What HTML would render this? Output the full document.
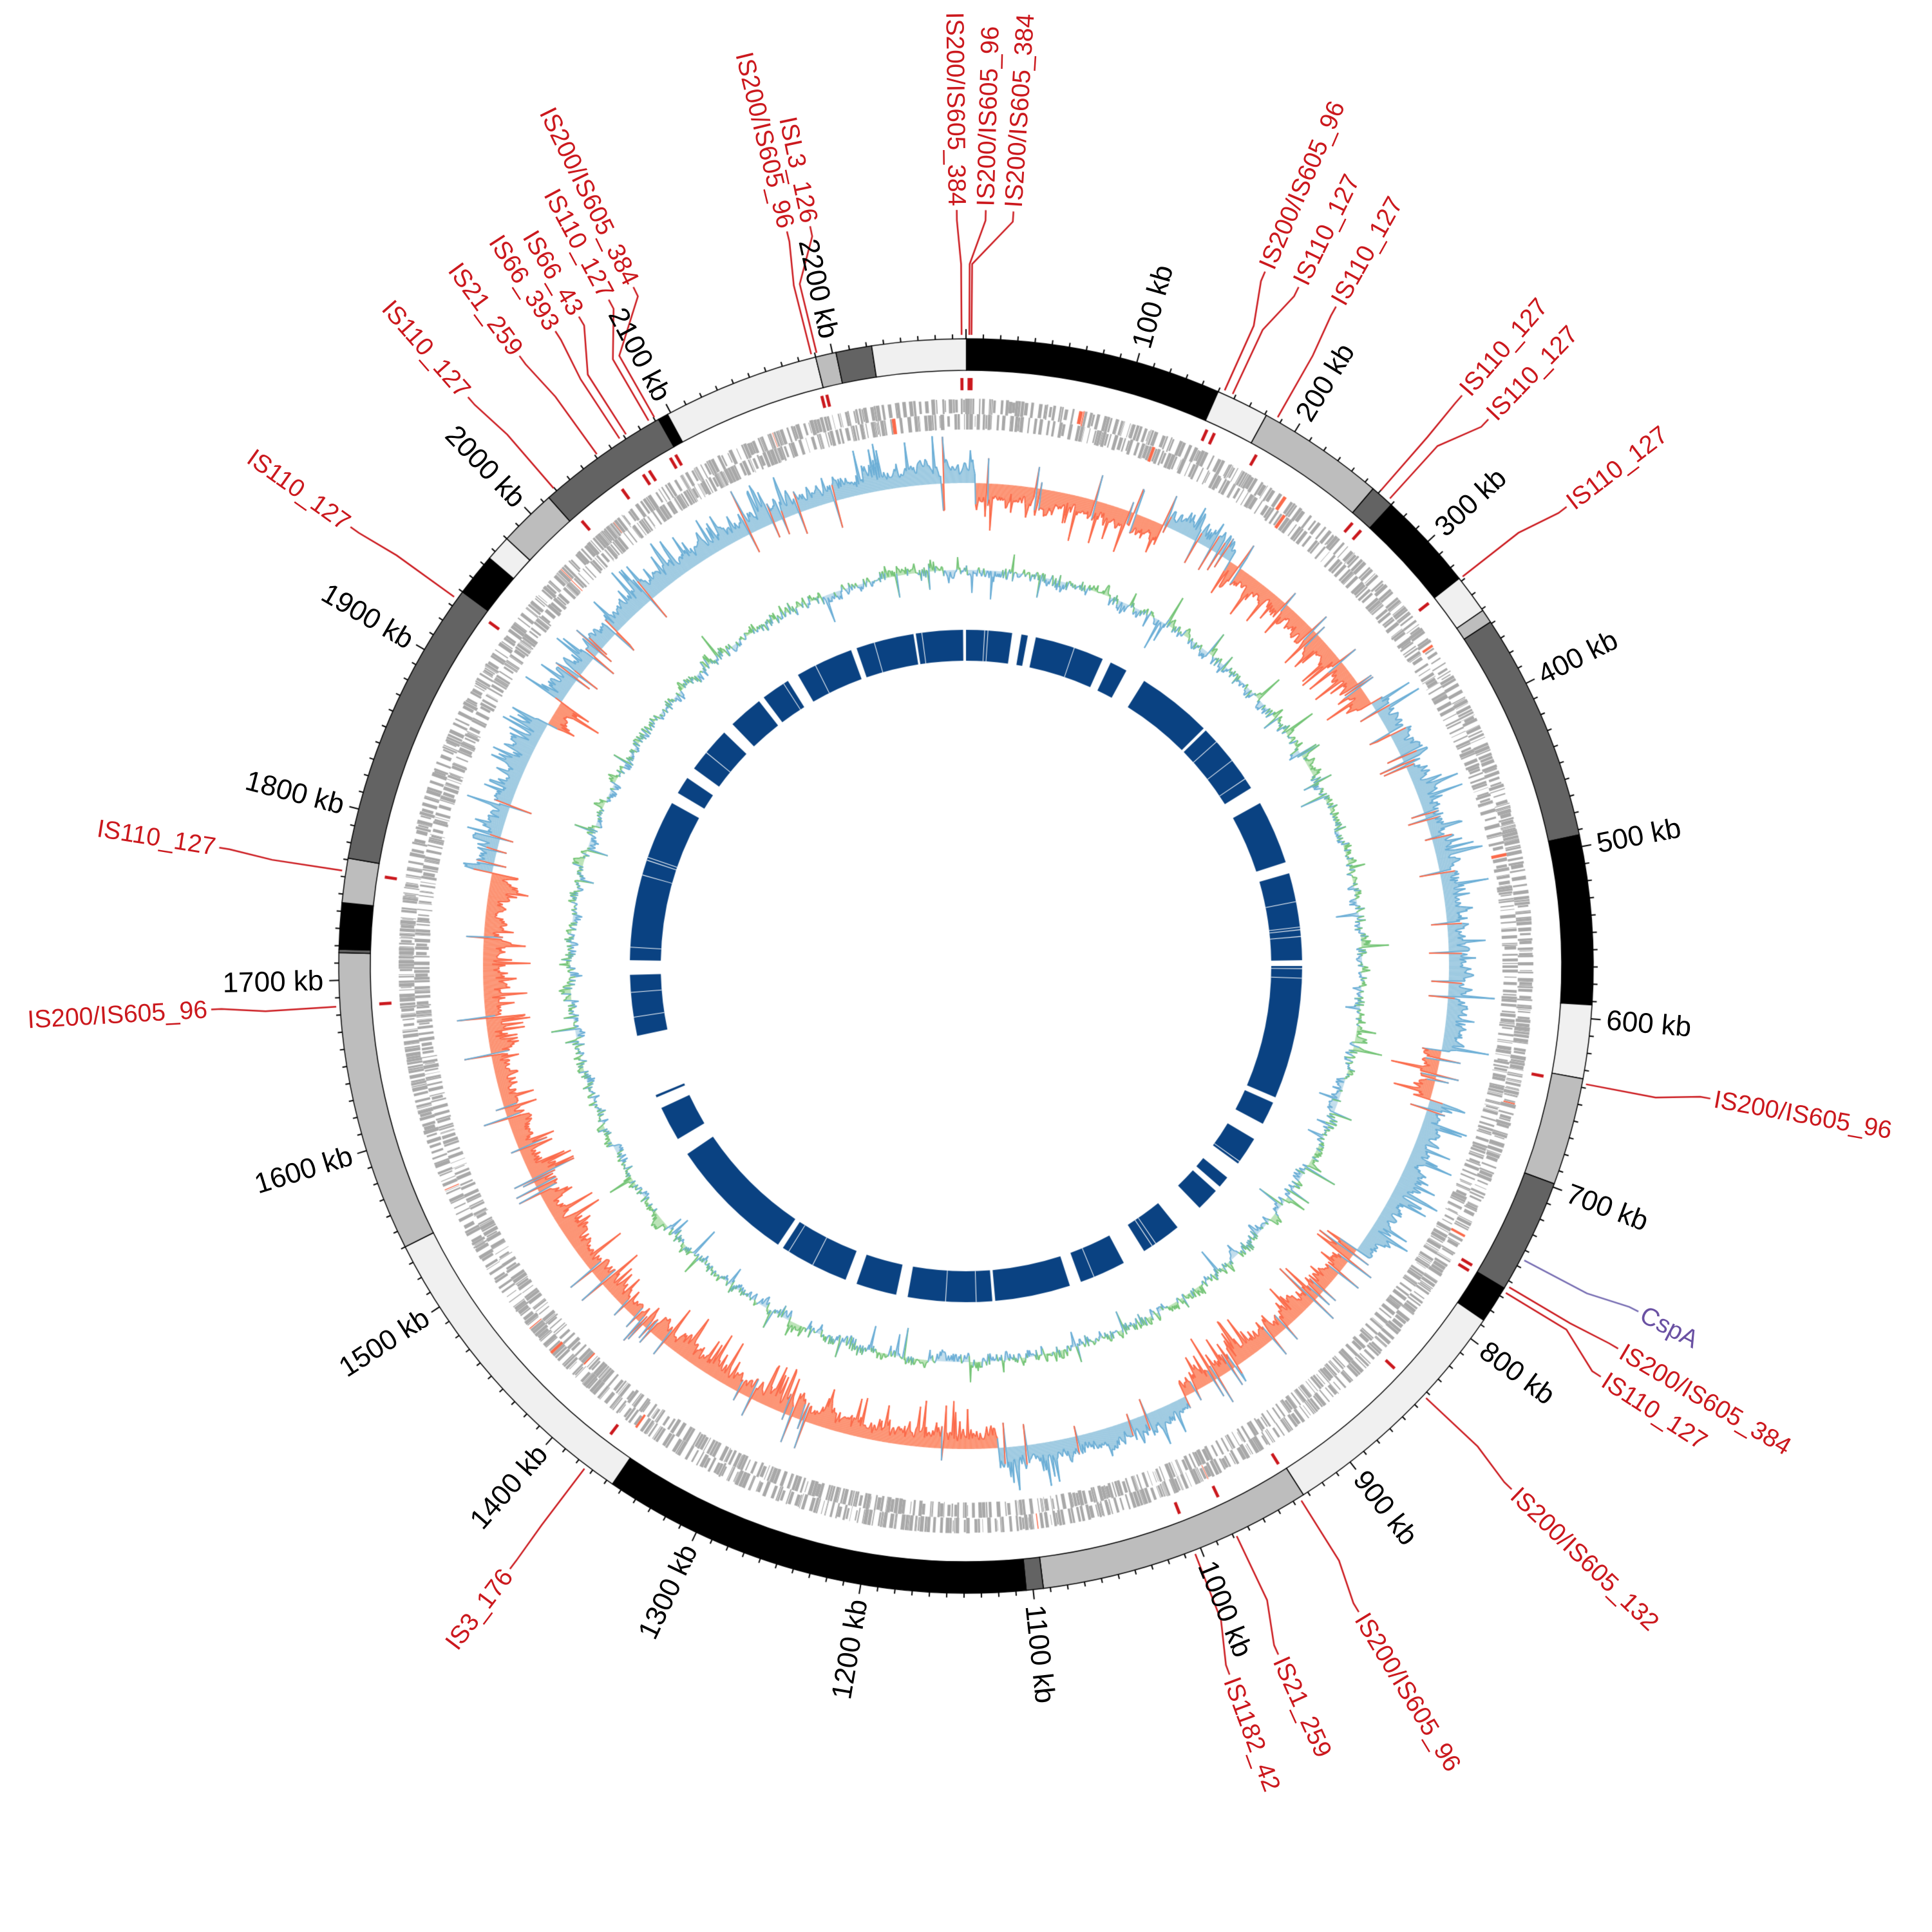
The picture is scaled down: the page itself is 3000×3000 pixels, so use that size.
<!DOCTYPE html>
<html><head><meta charset="utf-8"><style>
html,body{margin:0;padding:0;background:#fff;}
#wrap{position:relative;width:3000px;height:3000px;overflow:hidden;}
canvas,svg{position:absolute;left:0;top:0;}
.k{font-family:"Liberation Sans",sans-serif;font-size:44px;fill:#000;}
.r{font-family:"Liberation Sans",sans-serif;font-size:39px;fill:#cb181d;}
.p{font-family:"Liberation Sans",sans-serif;font-size:39px;fill:#6a51a3;}
</style></head><body><div id="wrap">
<canvas id="c" width="3000" height="3000"></canvas>
<svg width="3000" height="3000" viewBox="0 0 3000 3000" xmlns="http://www.w3.org/2000/svg">
<g class="k">
<text transform="translate(1500 1500) rotate(-74.19)" x="998" dominant-baseline="central">100 kb</text>
<text transform="translate(1500 1500) rotate(-58.39)" x="998" dominant-baseline="central">200 kb</text>
<text transform="translate(1500 1500) rotate(-42.58)" x="998" dominant-baseline="central">300 kb</text>
<text transform="translate(1500 1500) rotate(-26.78)" x="998" dominant-baseline="central">400 kb</text>
<text transform="translate(1500 1500) rotate(-10.97)" x="998" dominant-baseline="central">500 kb</text>
<text transform="translate(1500 1500) rotate(4.83)" x="998" dominant-baseline="central">600 kb</text>
<text transform="translate(1500 1500) rotate(20.64)" x="998" dominant-baseline="central">700 kb</text>
<text transform="translate(1500 1500) rotate(36.44)" x="998" dominant-baseline="central">800 kb</text>
<text transform="translate(1500 1500) rotate(52.25)" x="998" dominant-baseline="central">900 kb</text>
<text transform="translate(1500 1500) rotate(68.05)" x="998" dominant-baseline="central">1000 kb</text>
<text transform="translate(1500 1500) rotate(83.86)" x="998" dominant-baseline="central">1100 kb</text>
<text transform="translate(1500 1500) rotate(279.66)" x="-998" text-anchor="end" dominant-baseline="central">1200 kb</text>
<text transform="translate(1500 1500) rotate(295.47)" x="-998" text-anchor="end" dominant-baseline="central">1300 kb</text>
<text transform="translate(1500 1500) rotate(311.27)" x="-998" text-anchor="end" dominant-baseline="central">1400 kb</text>
<text transform="translate(1500 1500) rotate(327.08)" x="-998" text-anchor="end" dominant-baseline="central">1500 kb</text>
<text transform="translate(1500 1500) rotate(342.88)" x="-998" text-anchor="end" dominant-baseline="central">1600 kb</text>
<text transform="translate(1500 1500) rotate(358.69)" x="-998" text-anchor="end" dominant-baseline="central">1700 kb</text>
<text transform="translate(1500 1500) rotate(374.49)" x="-998" text-anchor="end" dominant-baseline="central">1800 kb</text>
<text transform="translate(1500 1500) rotate(390.30)" x="-998" text-anchor="end" dominant-baseline="central">1900 kb</text>
<text transform="translate(1500 1500) rotate(406.10)" x="-998" text-anchor="end" dominant-baseline="central">2000 kb</text>
<text transform="translate(1500 1500) rotate(421.91)" x="-998" text-anchor="end" dominant-baseline="central">2100 kb</text>
<text transform="translate(1500 1500) rotate(437.71)" x="-998" text-anchor="end" dominant-baseline="central">2200 kb</text>
</g>
<g class="r">
<text transform="translate(1500 1500) rotate(449.3)" x="-1180" text-anchor="end" dominant-baseline="central">IS200/IS605_384</text>
<text transform="translate(1500 1500) rotate(-88.5)" x="1180" dominant-baseline="central">IS200/IS605_96</text>
<text transform="translate(1500 1500) rotate(-86.4)" x="1180" dominant-baseline="central">IS200/IS605_384</text>
<text transform="translate(1500 1500) rotate(-66.7)" x="1180" dominant-baseline="central">IS200/IS605_96</text>
<text transform="translate(1500 1500) rotate(-63.9)" x="1180" dominant-baseline="central">IS110_127</text>
<text transform="translate(1500 1500) rotate(-60.7)" x="1180" dominant-baseline="central">IS110_127</text>
<text transform="translate(1500 1500) rotate(-49)" x="1180" dominant-baseline="central">IS110_127</text>
<text transform="translate(1500 1500) rotate(-46.3)" x="1180" dominant-baseline="central">IS110_127</text>
<text transform="translate(1500 1500) rotate(-37.4)" x="1180" dominant-baseline="central">IS110_127</text>
<text transform="translate(1500 1500) rotate(10.1)" x="1180" dominant-baseline="central">IS200/IS605_96</text>
<text class="p" transform="translate(1500 1500) rotate(27.2)" x="1180" dominant-baseline="central">CspA</text>
<text transform="translate(1500 1500) rotate(30.4)" x="1180" dominant-baseline="central">IS200/IS605_384</text>
<text transform="translate(1500 1500) rotate(32.9)" x="1180" dominant-baseline="central">IS110_127</text>
<text transform="translate(1500 1500) rotate(43.8)" x="1180" dominant-baseline="central">IS200/IS605_132</text>
<text transform="translate(1500 1500) rotate(58.7)" x="1180" dominant-baseline="central">IS200/IS605_96</text>
<text transform="translate(1500 1500) rotate(65.6)" x="1180" dominant-baseline="central">IS21_259</text>
<text transform="translate(1500 1500) rotate(69.6)" x="1180" dominant-baseline="central">IS1182_42</text>
<text transform="translate(1500 1500) rotate(307.1)" x="-1180" text-anchor="end" dominant-baseline="central">IS3_176</text>
<text transform="translate(1500 1500) rotate(356.7)" x="-1180" text-anchor="end" dominant-baseline="central">IS200/IS605_96</text>
<text transform="translate(1500 1500) rotate(369)" x="-1180" text-anchor="end" dominant-baseline="central">IS110_127</text>
<text transform="translate(1500 1500) rotate(395.5)" x="-1180" text-anchor="end" dominant-baseline="central">IS110_127</text>
<text transform="translate(1500 1500) rotate(408.8)" x="-1180" text-anchor="end" dominant-baseline="central">IS110_127</text>
<text transform="translate(1500 1500) rotate(413.8)" x="-1180" text-anchor="end" dominant-baseline="central">IS21_259</text>
<text transform="translate(1500 1500) rotate(417.1)" x="-1180" text-anchor="end" dominant-baseline="central">IS66_393</text>
<text transform="translate(1500 1500) rotate(419.2)" x="-1180" text-anchor="end" dominant-baseline="central">IS66_43</text>
<text transform="translate(1500 1500) rotate(421.8)" x="-1180" text-anchor="end" dominant-baseline="central">IS110_127</text>
<text transform="translate(1500 1500) rotate(423.9)" x="-1180" text-anchor="end" dominant-baseline="central">IS200/IS605_384</text>
<text transform="translate(1500 1500) rotate(436.3)" x="-1180" text-anchor="end" dominant-baseline="central">IS200/IS605_96</text>
<text transform="translate(1500 1500) rotate(438.1)" x="-1180" text-anchor="end" dominant-baseline="central">ISL3_126</text>
</g>
</svg>
</div>
<script>
(function(){
var cv=document.getElementById('c'),ctx=cv.getContext('2d');
var C=1500,K=0.15805;
function rad(t){return (t-90)*Math.PI/180;}
function pt(r,t){var a=rad(t);return [C+r*Math.cos(a),C+r*Math.sin(a)];}
var s=12345;function rnd(){s|=0;s=s+0x6D2B79F5|0;var t=Math.imul(s^s>>>15,1|s);t=t+Math.imul(t^t>>>7,61|t)^t;return((t^t>>>14)>>>0)/4294967296;}
function band(r1,r2,t1,t2,col,stroke){ctx.beginPath();ctx.arc(C,C,r2,rad(t1),rad(t2));ctx.arc(C,C,r1,rad(t2),rad(t1),true);ctx.closePath();ctx.fillStyle=col;ctx.fill();if(stroke){ctx.strokeStyle=stroke;ctx.lineWidth=1.5;ctx.stroke();}}
var seg=[[0,150,'#000'],[150,181,'#f0f0f0'],[181,256,'#bdbdbd'],[256,270,'#636363'],[270,328,'#000'],[328,351,'#f0f0f0'],[351,359,'#bdbdbd'],[359,493,'#636363'],[493,592,'#000'],[592,635,'#f0f0f0'],[635,698,'#bdbdbd'],[698,765,'#636363'],[765,787,'#000'],[787,933,'#f0f0f0'],[933,1094,'#bdbdbd'],[1094,1104,'#636363'],[1104,1356,'#000'],[1356,1540,'#f0f0f0'],[1540,1716,'#bdbdbd'],[1716,1718,'#636363'],[1718,1745,'#000'],[1745,1771,'#bdbdbd'],[1771,1940,'#636363'],[1940,1965,'#000'],[1965,1980,'#f0f0f0'],[1980,2014,'#bdbdbd'],[2014,2092,'#636363'],[2092,2098,'#000'],[2098,2190,'#f0f0f0'],[2190,2202,'#bdbdbd'],[2202,2223,'#636363'],[2223,2278,'#f0f0f0']];
seg.forEach(function(g){band(925,974,g[0]*K,g[1]*K,g[2],'#000');});
ctx.strokeStyle='#000';ctx.lineWidth=2;
for(var kb=0;kb<2278;kb+=10){var L=(kb%100==0)?15:7;var a=pt(974,kb*K),b=pt(974+L,kb*K);ctx.beginPath();ctx.moveTo(a[0],a[1]);ctx.lineTo(b[0],b[1]);ctx.stroke();}
function genes(r1,r2,dens){var p=0;while(p<2278){var len=0.3+rnd()*2.2;var gap=rnd()<dens?rnd()*0.4:rnd()*3.5;var off=rnd()<0.4?(rnd()*10):0;var col=rnd()<0.008?'#fb6a4a':'#a8a8a8';band(r1+off*0.5,r2-(off>0?off*0.3:0),p*K,(p+len)*K,col);p+=len+gap;}}
genes(857,881,0.45);genes(833,857,0.35);
var neg=[[1,24],[33,57],[100,106],[126,153],[176,281],[300,303]];
function sign(t){for(var i=0;i<neg.length;i++){if(t>=neg[i][0]&&t<neg[i][1])return -1;}return 1;}
var N=2600,B=750,w=0,vals=[];
for(var i=0;i<N;i++){var t=i*360/N;w=w*0.8+(rnd()-0.5)*16;var sg=sign(t);var v=sg*(10+Math.abs(w)*1.2+rnd()*14);var q=rnd();if(q<0.09)v=sg*(40+rnd()*35);else if(q<0.13)v=-sg*(10+rnd()*35);vals.push(v);}
function trace(Bs,arr,fp,fn,sp,sn){var n=arr.length;for(var i=0;i<n;i++){var t1=i*360/n,t2=(i+1)*360/n,v=arr[i];band(Bs+Math.min(0,v),Bs+Math.max(0,v),t1,t2+0.02,v>=0?fp:fn);}ctx.lineWidth=2;for(var i=0;i<n;i++){var t1=i*360/n,t2=(i+1)*360/n,v=arr[i],v2=arr[(i+1)%n];var a=pt(Bs+v,t1+(t2-t1)/2),b=pt(Bs+v2,t2+(t2-t1)/2);ctx.strokeStyle=v>=0?sp:sn;ctx.beginPath();ctx.moveTo(a[0],a[1]);ctx.lineTo(b[0],b[1]);ctx.stroke();}}
trace(B,vals,'#9ecae1','#fc9272','#6baed6','#fb6a4a');
var g=[];w=0;for(var i=0;i<N;i++){w=w*0.8+(rnd()-0.5)*10;var v=w+(rnd()-0.5)*16;if(rnd()<0.05)v+=(rnd()-0.5)*90;g.push(v);}
trace(615,g,'rgba(161,217,155,0.7)','rgba(158,202,225,0.6)','#74c476','#6baed6');
var bl=[[351.4,359.5],[0,7.9],[9.5,10.6],[12,24],[25.5,28.5],[32,45],[45.5,58],[61,72],[74,89],[90,113],[114,118],[121,126],[129,131],[132,136],[141,148],[152,160],[162,175],[175.5,190],[192,199],[201,213],[214,236],[239,245],[247,247.4],[258,268.5],[271,299],[301,304],[306,314],[316,322],[323,328],[330,340],[341,351]];
bl.forEach(function(b){band(474,522,b[0],b[1],'#0a4282');var n=Math.floor((b[1]-b[0])/3);for(var j=0;j<n;j++){if(rnd()<0.4){var tt=b[0]+rnd()*(b[1]-b[0]);band(474,522,tt,tt+0.12,'#ffffff');}}});
var is=[[359.6,359.3],[0.3,1.5],[0.5,3.6],[24.2,23.3],[25.0,26.1],[29.6,29.3],[41.1,41.0],[42.2,43.7],[51.9,52.6],[100.8,100.1],[117.8,117.2,1],[120.6,120.4],[121.2,122.9],[133.2,133.8],[147.9,148.7],[154.6,155.6],[158.7,159.6],[217.2,217.1],[266.3,266.7],[278.7,279.0],[305.8,305.5],[319.2,318.8],[324.2,323.8],[326.7,327.1],[327.4,329.2],[329.8,331.8],[330.4,333.9],[345.8,346.3],[346.3,348.1]];
is.forEach(function(f){var col=f[2]?'#756bb1':'#cb181d';if(!f[2])band(894,913,f[0]-0.15,f[0]+0.15,col);ctx.strokeStyle=col;ctx.lineWidth=2.5;var p0=pt(980,f[0]),p1=pt(1090,f[0]),p2=pt(1158,f[1]),p3=pt(1174,f[1]);ctx.beginPath();ctx.moveTo(p0[0],p0[1]);ctx.lineTo(p1[0],p1[1]);ctx.lineTo(p2[0],p2[1]);ctx.lineTo(p3[0],p3[1]);ctx.stroke();});
})();
</script>
</body></html>
